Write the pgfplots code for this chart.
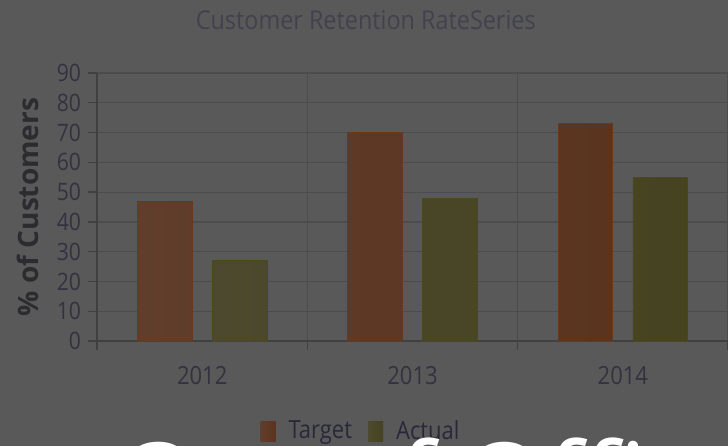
\documentclass[border=0pt]{standalone}
\usepackage{fontspec}
\setmainfont{Open Sans}
\newfontfamily\condfont{Open Sans}[FakeStretch=0.88]
\newfontfamily\titlefont{Open Sans}[FakeStretch=0.9]
\usepackage{pgfplots}
\pgfplotsset{compat=1.18}

\definecolor{bgcol}{RGB}{89,89,89}
\definecolor{gridcol}{RGB}{76,76,76}
\definecolor{axiscol}{RGB}{64,64,64}
\definecolor{tickcol}{RGB}{52,50,64}
\definecolor{titlecol}{RGB}{66,66,78}
\definecolor{ylabcol}{RGB}{44,44,48}
\definecolor{legcol}{RGB}{40,40,58}
\definecolor{tgtL}{RGB}{96,62,44}
\definecolor{tgtR}{RGB}{90,52,30}
\definecolor{tgtD}{RGB}{102,56,28}
\definecolor{actL}{RGB}{76,73,46}
\definecolor{actR}{RGB}{70,67,33}
\definecolor{actD}{RGB}{74,72,30}

\begin{document}
\begin{tikzpicture}
\useasboundingbox (0,0) rectangle (364pt,223pt);
\clip (0,0) rectangle (364pt,223pt);
\fill[bgcol] (0,0) rectangle (364pt,223pt);
\begin{axis}[
    at={(48.5pt,52.5pt)}, anchor=south west,
    scale only axis, width=315.5pt, height=134pt,
    xmin=-0.5, xmax=2.5, ymin=0, ymax=90,
    ytick={0,10,...,90},
    xtick={0,1,2}, xticklabels={2012,2013,2014},
    minor xtick={-0.5,0.5,1.5,2.5},
    ymajorgrids, xminorgrids,
    grid style={draw=gridcol, line width=0.6pt},
    axis x line*=bottom, axis y line*=left,
    axis line style={-, draw=axiscol, line width=0.7pt},
    tick align=outside,
    major x tick style={draw=none},
    major tick length=4.5pt, minor tick length=4.5pt,
    tick style={draw=axiscol, line width=0.7pt},
    /pgf/number format/assume math mode=true,
    yticklabel style={font=\condfont\fontsize{12}{14}\selectfont, text=tickcol},
    xticklabel style={font=\condfont\fontsize{12.5}{14}\selectfont, text=tickcol, yshift=-4.5pt},
    ylabel={\% of Customers},
    ylabel style={at={(axis description cs:-0.1094,0.5)}, anchor=center,
        font=\bfseries\fontsize{14}{16}\selectfont, text=ylabcol},
    title={Customer Retention RateSeries},
    title style={at={(axis description cs:0.426,1.153)}, anchor=center,
        font=\titlefont\fontsize{13}{15}\selectfont, text=titlecol},
    ybar, bar width=0.26,
    legend columns=2,
    legend style={at={(axis description cs:0.42,-0.336)}, anchor=center,
        draw=none, fill=none, text=legcol,
        font=\condfont\fontsize{12.5}{14}\selectfont,
        /tikz/every even column/.append style={column sep=6pt}},
]
\addplot[bar shift=-0.178, draw=tgtD, left color=tgtL, right color=tgtR,
    legend image code/.code={\fill[tgtD, draw=none] (0pt,-5pt) rectangle (7.5pt,5pt);
        \path[draw=none, fill=none, shade=false] (0pt,0pt) rectangle (12pt,0.1pt);}]
    coordinates {(0,47) (1,70) (2,73)};
\addplot[bar shift=0.178, draw=actD, left color=actL, right color=actR,
    legend image code/.code={\fill[actD, draw=none] (0pt,-5pt) rectangle (7.5pt,5pt);
        \path[draw=none, fill=none, shade=false] (0pt,0pt) rectangle (12pt,0.1pt);}]
    coordinates {(0,27) (1,48) (2,55)};
\legend{Target, Actual}
\end{axis}
\node[anchor=base west, inner sep=0pt, text=white,
    font=\fontsize{54}{58}\selectfont] at (58pt,-37pt) {Out of Office};
\end{tikzpicture}
\end{document}
